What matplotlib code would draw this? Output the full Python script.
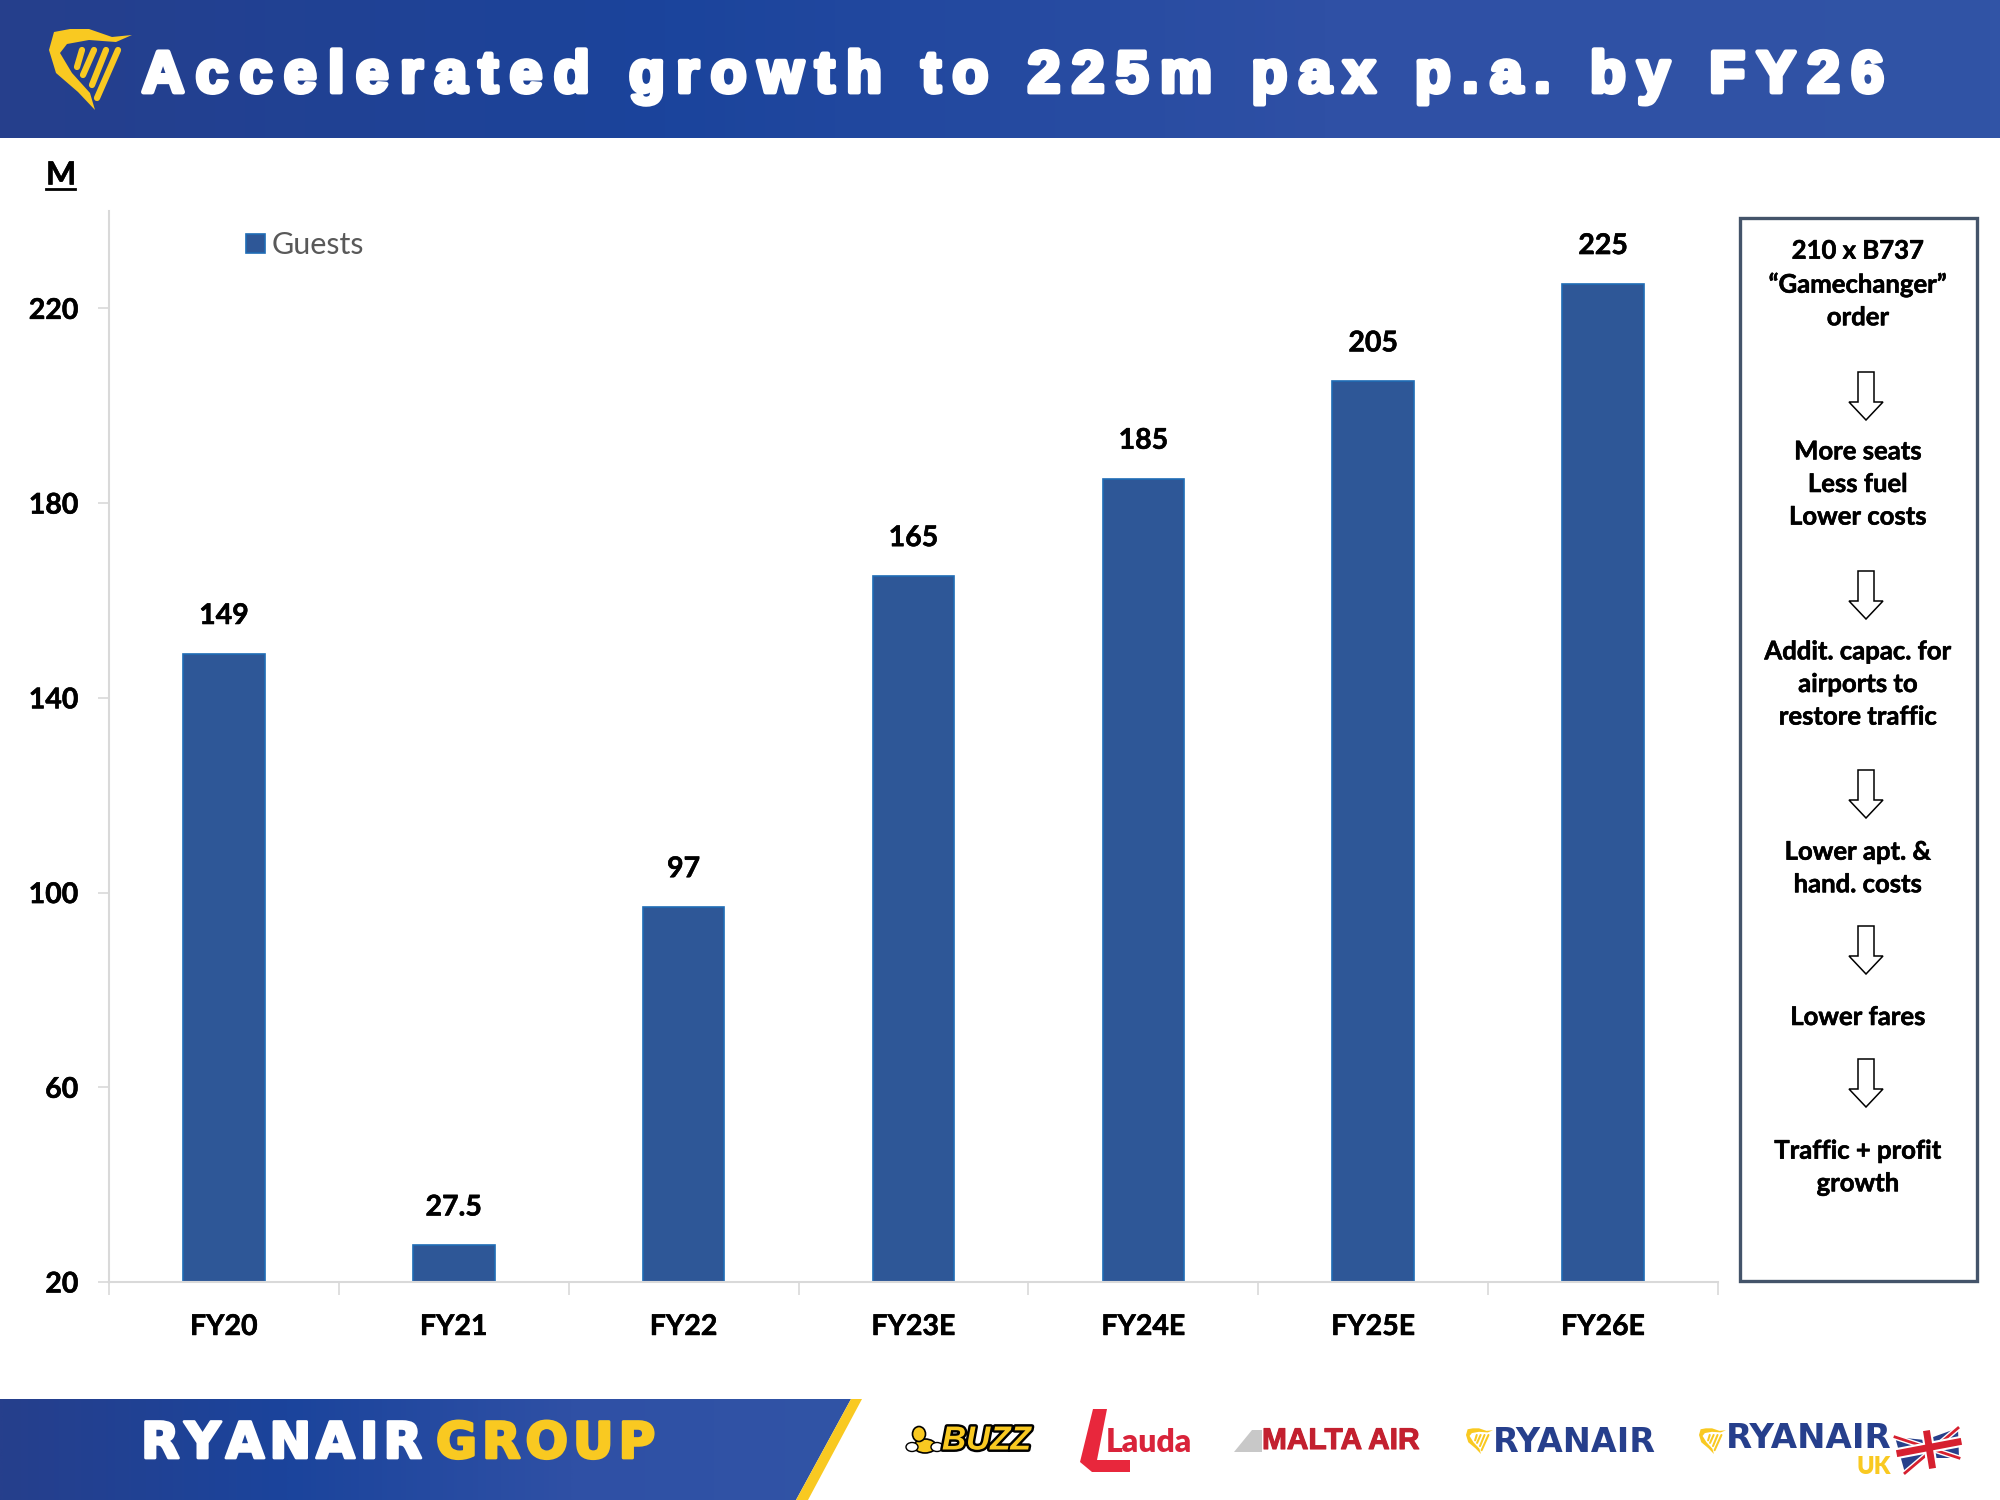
import matplotlib
matplotlib.use('Agg')
import matplotlib.pyplot as plt
from matplotlib.patches import Polygon, Rectangle, Ellipse
from matplotlib.colors import LinearSegmentedColormap
import matplotlib.patheffects as pe
import numpy as np

# chart data
years = ['FY20', 'FY21', 'FY22', 'FY23E', 'FY24E', 'FY25E', 'FY26E']
guests = [149, 27.5, 97, 165, 185, 205, 225]
value_labels = ['149', '27.5', '97', '165', '185', '205', '225']
y_ticks = [20, 60, 100, 140, 180, 220]

# side box text, grouped between the arrows
side_text = ['210 x B737\n\u201cGamechanger\u201d\norder',
             'More seats\nLess fuel\nLower costs',
             'Addit. capac. for\nairports to\nrestore traffic',
             'Lower apt. &\nhand. costs',
             'Lower fares',
             'Traffic + profit\ngrowth']
side_y = [284, 484, 684, 868, 1017, 1167]
arrow_y = [372, 571, 770, 926, 1059]

title = 'Accelerated growth to 225m pax p.a. by FY26'

BLUE = '#2e5797'
YELLOW = '#f9c921'
NAVY = '#233f8f'
FONT = 'Lato'
heavy = [pe.withStroke(linewidth=0.4, foreground='black')]

fig = plt.figure(figsize=(20, 15), dpi=100)

# page layer in pixel coordinates
bg = fig.add_axes([0, 0, 1, 1])
bg.set_xlim(0, 2000)
bg.set_ylim(1500, 0)
bg.axis('off')

grad = LinearSegmentedColormap.from_list('band', ['#263f8c', '#1b449c', '#2f50a5', '#3154a6'])
g = np.linspace(0, 1, 400).reshape(1, -1)
bg.imshow(g, extent=[0, 2000, 138, 0], cmap=grad, aspect='auto')
foot = bg.imshow(g, extent=[0, 860, 1500, 1399], cmap=grad, aspect='auto')
clip = Polygon([(0, 1399), (851, 1399), (796, 1500), (0, 1500)], transform=bg.transData, fc='none', ec='none')
bg.add_patch(clip)
foot.set_clip_path(clip)
bg.set_xlim(0, 2000)
bg.set_ylim(1500, 0)
bg.add_patch(Polygon([(851, 1399), (862, 1399), (808, 1500), (796, 1500)], fc=YELLOW, ec='none'))

# harp logo
harp_body = [(54, 32), (70, 29), (89, 29), (112, 37), (132, 35), (116, 42), (89, 40), (67, 44),
             (60, 53), (72, 73), (90, 93), (95, 110), (78, 92), (56, 73), (49, 50)]
harp_str = [((82, 50), (77, 67)), ((94, 50), (83, 75)), ((106, 50), (92, 85)), ((118, 50), (97, 98))]


def harp(x0, y0, w, h):
    sx = w / 83
    sy = h / 82
    bg.add_patch(Polygon([(x0 + (a - 49) * sx, y0 + (b - 28) * sy) for a, b in harp_body], fc=YELLOW, ec='none'))
    for p, q in harp_str:
        bg.plot([x0 + (p[0] - 49) * sx, x0 + (q[0] - 49) * sx],
                [y0 + (p[1] - 28) * sy, y0 + (q[1] - 28) * sy],
                color=YELLOW, lw=max(0.8, 4.5 * sx), solid_capstyle='round')


harp(49, 28, 83, 82)

# title with thin spaces for the wide tracking
tracked = '\u2009'.join(title)
bg.text(142, 77, tracked, color='white', fontsize=42, family='Liberation Sans', fontweight='bold',
        va='center', ha='left', path_effects=[pe.withStroke(linewidth=3.5, foreground='white')])

bg.text(46, 175, 'M', fontsize=23, family=FONT, fontweight='bold', va='center', ha='left', color='black', path_effects=heavy)
bg.plot([46, 75], [189, 189], color='black', lw=2)

# footer wordmark
bold_w = [pe.withStroke(linewidth=2, foreground='white')]
bold_y = [pe.withStroke(linewidth=2, foreground=YELLOW)]
bg.text(141, 1444, '\u200a'.join('RYANAIR'), color='white', fontsize=36, family='DejaVu Sans', fontweight='bold', va='center', path_effects=bold_w)
bg.text(436, 1444, '\u200a'.join('GROUP'), color=YELLOW, fontsize=36, family='DejaVu Sans', fontweight='bold', va='center', path_effects=bold_y)

# airline logos
bg.add_patch(Ellipse((925, 1446), 22, 14, fc=YELLOW, ec='black', lw=1.2))
bg.add_patch(Ellipse((919, 1434), 13, 15, fc=YELLOW, ec='black', lw=1.2))
bg.add_patch(Ellipse((912, 1447), 12, 9, fc='white', ec='black', lw=1))
bg.add_patch(Ellipse((937, 1447), 12, 9, fc='white', ec='black', lw=1))
bg.text(942, 1441, 'BUZZ', color=YELLOW, fontsize=24, family='Liberation Sans', fontweight='bold', style='italic',
        va='center', path_effects=[pe.withStroke(linewidth=3.5, foreground='black')])
bg.add_patch(Polygon([(1093, 1409), (1107, 1409), (1097, 1460), (1130, 1460), (1130, 1472), (1092, 1472), (1080, 1462)],
                     fc='#e8273c', ec='none'))
bg.text(1106, 1442, 'Lauda', color='#d9233a', fontsize=23, family='Lato', fontweight='heavy', va='center')
bg.add_patch(Polygon([(1234, 1452), (1252, 1430), (1262, 1430), (1262, 1452)], fc='#c8c8c8', ec='none'))
bg.text(1262, 1441, 'MALTA AIR', color='#c3202f', fontsize=21.5, family='Liberation Sans', fontweight='bold', va='center',
        path_effects=[pe.withStroke(linewidth=0.8, foreground='#c3202f')])
harp(1466, 1428, 27, 26)
bg.text(1493, 1442, 'RYANAIR', color='#263f8c', fontsize=24, family='DejaVu Sans', fontweight='bold', va='center')
harp(1699, 1428, 27, 26)
bg.text(1726, 1439, 'RYANAIR', color='#263f8c', fontsize=24.5, family='DejaVu Sans', fontweight='bold', va='center')
bg.text(1856, 1467, 'UK', color=YELLOW, fontsize=17, family='Lato', fontweight='heavy', va='center')
# small union flag
bg.add_patch(Polygon([(1895, 1437), (1925, 1440), (1958, 1428), (1959, 1458), (1925, 1458), (1905, 1473)], fc='#27408b', ec='none'))
bg.plot([1895, 1959], [1437, 1458], color='white', lw=4)
bg.plot([1958, 1905], [1428, 1473], color='white', lw=4)
bg.plot([1895, 1959], [1437, 1458], color='#d6202f', lw=2)
bg.plot([1958, 1905], [1428, 1473], color='#d6202f', lw=2)
bg.plot([1927, 1932], [1434, 1465], color='white', lw=8)
bg.plot([1900, 1958], [1453, 1442], color='white', lw=8)
bg.plot([1927, 1932], [1434, 1465], color='#d6202f', lw=5)
bg.plot([1900, 1958], [1453, 1442], color='#d6202f', lw=5)

# side box
bg.add_patch(Rectangle((1740, 218), 237, 1063, fc='white', ec='#44546a', lw=2.4))
for txt, y in zip(side_text, side_y):
    bg.text(1858, y, txt, ha='center', va='center', fontsize=18.5, family=FONT, fontweight='bold',
            color='black', linespacing=1.43, path_effects=heavy)
for y in arrow_y:
    x = 1866
    bg.add_patch(Polygon([(x - 8, y), (x + 8, y), (x + 8, y + 30), (x + 17, y + 30), (x, y + 48),
                          (x - 17, y + 30), (x - 8, y + 30)], fc='white', ec='black', lw=1.1))

# the chart itself
ax = fig.add_axes([109 / 2000, 1 - 1282 / 1500, (1718 - 109) / 2000, (1282 - 211) / 1500])
ax.patch.set_alpha(0)
pos = np.arange(len(years))
bars = ax.bar(pos, guests, bottom=0, width=0.355, color=BLUE, edgecolor='#1f6cb5', linewidth=1.2, label='Guests')
ax.set_xlim(-0.5, len(years) - 0.5)
ax.set_ylim(20, 240)
ax.set_yticks(y_ticks)
ax.set_xticks(pos)
ax.set_xticklabels(years)
ax.set_xticks(np.arange(len(years) + 1) - 0.5, minor=True)
for s in ['top', 'right']:
    ax.spines[s].set_visible(False)
for s in ['left', 'bottom']:
    ax.spines[s].set_color('#d9d9d9')
    ax.spines[s].set_linewidth(1.5)
ax.tick_params(axis='x', which='major', length=0, pad=23)
ax.tick_params(axis='x', which='minor', length=9, width=1.2, color='#d9d9d9')
ax.tick_params(axis='y', length=8, width=1.2, color='#d9d9d9', pad=14)
for lab in ax.get_xticklabels() + ax.get_yticklabels():
    lab.set_fontsize(20.5)
    lab.set_fontfamily(FONT)
    lab.set_fontweight('bold')
    lab.set_color('black')
    lab.set_path_effects(heavy)
for p, v, s in zip(pos, guests, value_labels):
    ax.annotate(s, (p, v), xytext=(0, 18), textcoords='offset points', ha='center', va='bottom',
                fontsize=20.5, family=FONT, fontweight='bold', color='black', path_effects=heavy)

leg = ax.legend(loc='upper left', bbox_to_anchor=(0.085, 0.981), frameon=False, handlelength=0.62, handleheight=0.62,
                handletextpad=0.22, borderpad=0, borderaxespad=0,
                prop={'family': FONT, 'size': 22})
for t in leg.get_texts():
    t.set_color('#595959')

fig.savefig('out.png', dpi=100)
